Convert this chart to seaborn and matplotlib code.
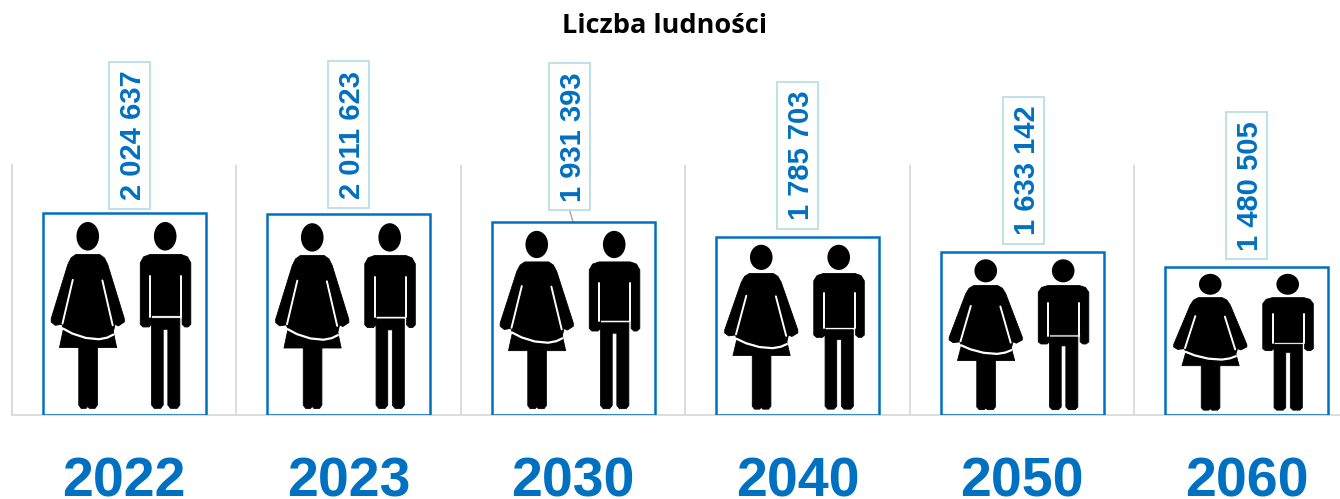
import numpy as np
import matplotlib
matplotlib.use("Agg")
import matplotlib.pyplot as plt
from matplotlib.patches import Rectangle, Ellipse, Polygon
import seaborn as sns

years = ["2022", "2023", "2030", "2040", "2050", "2060"]
population = [2024637, 2011623, 1931393, 1785703, 1633142, 1480505]
labels = ["2 024 637", "2 011 623", "1 931 393", "1 785 703", "1 633 142", "1 480 505"]

# label box shift from the bar centre and gap above the bar, in pixels
label_dx = [5, 0, -3.5, 0, 1, 0]
label_gap = [4, 6, 12, 8, 8, 8]

BLUE = "#0070C0"
GREY = "#D9D9D9"
BOX = "#B9DFE4"

# icon outlines, measured in a box of 491 x 608 with y going down
BOX_W, BOX_H = 491.0, 608.0
woman_head = (136, 70, 34, 43)
man_head = (369, 70, 34, 43)
woman_body = [(100, 125), (172, 125), (186, 135), (196, 155), (246, 318), (246, 328), (228, 340), (218, 335),
              (213, 358), (223, 405), (51, 405), (63, 348), (58, 335), (38, 338), (26, 328), (26, 318),
              (76, 155), (86, 135)]
woman_legs = [(109, 405), (165, 405), (165, 578), (158, 588), (141, 588), (136, 582), (131, 588), (116, 588), (109, 578)]
woman_gaps = [[(91, 201), (60, 333)], [(180, 203), (211, 338)]]
woman_hem = [(62, 348), (90, 363), (130, 376), (170, 380), (195, 375), (213, 366)]
man_top = [(323, 125), (418, 125), (436, 132), (446, 150), (446, 335), (438, 343), (428, 343), (420, 335),
           (420, 309), (328, 309), (328, 335), (320, 343), (302, 343), (294, 335), (294, 150), (304, 132)]
man_legs = [(328, 317), (413, 317), (413, 578), (405, 588), (385, 588), (377, 578), (377, 350), (363, 350),
            (363, 578), (355, 588), (336, 588), (328, 578)]
man_gaps = [[(324, 191), (324, 312)], [(417, 191), (417, 312)]]

sns.set_style("white")
plt.rcParams["font.family"] = ["Liberation Sans", "DejaVu Sans"]

fig = plt.figure(figsize=(13.4, 4.99), dpi=100)
ax = fig.add_axes([11.9 / 1340, 84 / 499, 1347 / 1340, 250 / 499])

bar_w = 0.727
sns.barplot(x=years, y=population, color=BLUE, saturation=1, fill=False, width=bar_w, linewidth=1.8, ax=ax)
for bar in ax.patches:
    bar.set_zorder(3)

ax.set_xlim(-0.5, 5.5)
ymax = 2024637 / 202 * 250
ax.set_ylim(0, ymax)
ax.set_yticks([])
ax.set_xticks(np.arange(-0.5, 6), minor=True)
ax.grid(which="minor", axis="x", color=GREY, lw=1.3)
ax.tick_params(axis="x", which="both", length=0, pad=30, labelsize=40, labelcolor=BLUE)
for t in ax.get_xticklabels():
    t.set_fontweight("bold")
sns.despine(ax=ax, top=True, right=True)
ax.spines["left"].set_color(GREY)
ax.spines["left"].set_linewidth(1.3)
ax.spines["bottom"].set_color(GREY)
ax.spines["bottom"].set_linewidth(1.3)

# size of one pixel in data units
px_x = 6 / 1347
px_y = ymax / 250


def pts(outline, i, val):
    a = np.array(outline, dtype=float)
    return np.column_stack([i + (a[:, 0] / BOX_W - 0.5) * bar_w, (1 - a[:, 1] / BOX_H) * val])


def head(spec, i, val):
    cx, cy = pts([spec[:2]], i, val)[0]
    return Ellipse((cx, cy), 2 * spec[2] / BOX_W * bar_w, 2 * spec[3] / BOX_H * val, color="black", lw=0, zorder=3)


for i, val in enumerate(population):
    ax.add_patch(head(woman_head, i, val))
    ax.add_patch(head(man_head, i, val))
    for shape in [woman_body, woman_legs, man_top, man_legs]:
        ax.add_patch(Polygon(pts(shape, i, val), closed=True, fc="black", ec="black", lw=0.6, joinstyle="round", zorder=3))
    for gap in woman_gaps + man_gaps:
        p = pts(gap, i, val)
        ax.plot(p[:, 0], p[:, 1], color="white", lw=1.4, zorder=4)
    p = pts(woman_hem, i, val)
    ax.plot(p[:, 0], p[:, 1], color="white", lw=1.6, zorder=4)

    # value label in its own box
    w, h = 41 * px_x, 147 * px_y
    cx = i + label_dx[i] * px_x
    y0 = val + label_gap[i] * px_y
    ax.add_patch(Rectangle((cx - w / 2, y0), w, h, fc="white", ec=BOX, lw=1.3, clip_on=False, zorder=5))
    ax.text(cx + 3.5 * px_x, y0 + h / 2, labels[i], rotation=90, ha="center", va="center", color=BLUE,
            fontsize=21, fontweight="bold", clip_on=False, zorder=6)
    if label_gap[i] > 10:
        ax.plot([cx, i], [y0, val], color="#A6A6A6", lw=1, clip_on=False, zorder=2)

fig.text(664 / 1340, 1 - 26 / 499, "Liczba ludności", ha="center", va="center", fontsize=19.5,
         fontweight="bold", family="Open Sans", color="black")

fig.savefig("out.png", dpi=100)
